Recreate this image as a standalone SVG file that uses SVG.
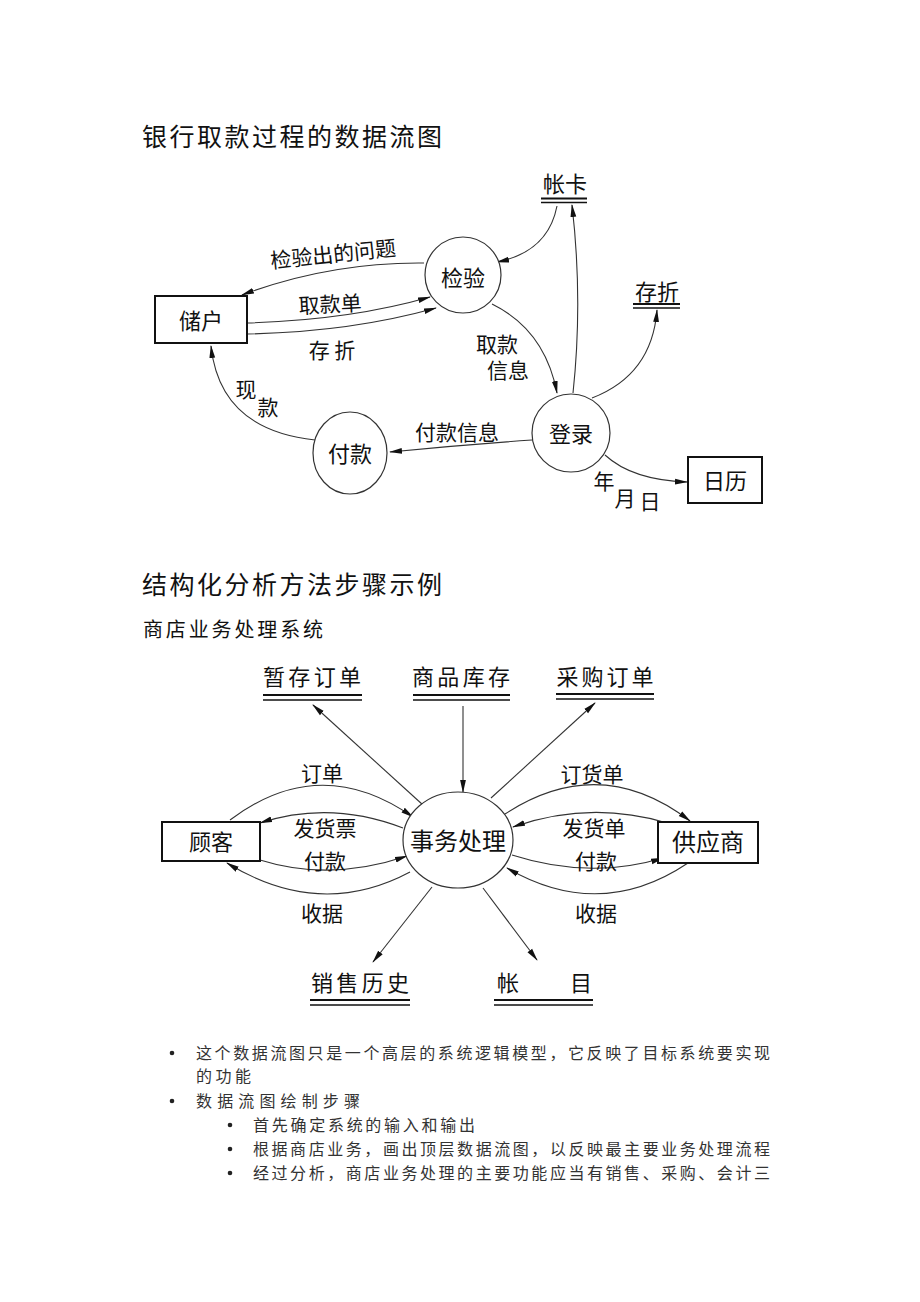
<svg xmlns="http://www.w3.org/2000/svg" width="920" height="1302" viewBox="0 0 920 1302">
<style>
text{font-family:"Noto Sans CJK SC","Noto Sans",sans-serif;fill:#111}
.t{font-size:25px}
.st{font-size:20px}
.n{font-size:22px;text-anchor:middle}
.n2{font-size:24px;text-anchor:middle}
.l{font-size:21px;text-anchor:middle}
.b{font-size:16px;fill:#333}
.c{fill:#fff;stroke:#333;stroke-width:1.2}
.r{fill:#fff;stroke:#111;stroke-width:2}
.s1{stroke:#111;stroke-width:2}
.s2{stroke:#111;stroke-width:1.4}
#conn path{fill:none;stroke:#333;stroke-width:1.1;marker-end:url(#a)}
</style>
<defs>
<marker id="a" markerWidth="13" markerHeight="7" refX="12" refY="3.5" orient="auto" markerUnits="userSpaceOnUse">
<path d="M0,0.6 L13,3.5 L0,6.4 z" fill="#111"/>
</marker>
</defs>
<rect width="920" height="1302" fill="#fff"/>

<text class="t" x="142" y="146" textLength="300">银行取款过程的数据流图</text>
<text class="t" x="142" y="594" textLength="300">结构化分析方法步骤示例</text>
<text class="st" x="143" y="637" textLength="180">商店业务处理系统</text>

<g id="conn">
<path d="M557,206 Q548,252 497,262"/>
<path d="M573,393 Q583,300 572,205"/>
<path d="M592,398 Q652,375 657,310"/>
<path d="M492,304 Q545,330 557,393"/>
<path d="M532,440 Q460,445 390,452"/>
<path d="M605,455 Q632,480 687,482"/>
<path d="M315,440 Q220,430 211,346"/>
<path d="M424,263 Q330,262 242,295"/>
<path d="M247,323 Q350,320 430,297"/>
<path d="M247,334 Q350,332 436,308"/>

<path d="M423,805 L313,705"/>
<path d="M463,706 L463,792"/>
<path d="M491,798 L595,703"/>
<path d="M230,820 Q320,752 413,817"/>
<path d="M403,828 Q330,800 260,823"/>
<path d="M260,860 Q330,882 407,856"/>
<path d="M410,872 Q320,920 227,863"/>
<path d="M432,887 L373,962"/>
<path d="M483,888 L537,960"/>
<path d="M505,814 Q600,752 690,821"/>
<path d="M667,823 Q590,800 513,827"/>
<path d="M512,855 Q590,880 663,858"/>
<path d="M688,863 Q600,922 507,868"/>
</g>

<g id="labels1">
<text class="l" x="333" y="262" transform="rotate(-6 333 253)">检验出的问题</text>
<text class="l" x="330" y="312" transform="rotate(-3 330 303)">取款单</text>
<text class="l" x="332" y="358">存 折</text>
<text class="l" x="497" y="352">取款</text>
<text class="l" x="508" y="378">信息</text>
<text class="l" x="457" y="440">付款信息</text>
<text class="l" x="604" y="489">年</text>
<text class="l" x="625" y="506">月</text>
<text class="l" x="650" y="509">日</text>
<text class="l" x="246" y="397">现</text>
<text class="l" x="268" y="415">款</text>
</g>

<g id="zhangka">
<text class="n" x="565" y="192">帐卡</text>
<line class="s1" x1="541" y1="198.5" x2="587" y2="198.5"/>
<line class="s2" x1="541" y1="202.5" x2="587" y2="202.5"/>
</g>
<g id="cunzhe">
<text class="n" x="657" y="300">存折</text>
<line class="s1" x1="633" y1="304" x2="680" y2="304"/>
<line class="s2" x1="633" y1="308" x2="680" y2="308"/>
</g>
<g id="jianyan">
<circle class="c" cx="463" cy="275" r="38"/>
<text class="n" x="463" y="286">检验</text>
</g>
<g id="chuhu">
<rect class="r" x="155" y="296" width="92" height="47"/>
<text class="n" x="201" y="329">储户</text>
</g>
<g id="denglu">
<circle class="c" cx="571" cy="433" r="39"/>
<text class="n" x="571" y="442">登录</text>
</g>
<g id="fukuan">
<ellipse class="c" cx="350" cy="453" rx="37" ry="41"/>
<text class="n" x="350" y="462">付款</text>
</g>
<g id="rili">
<rect class="r" x="688" y="457" width="74" height="46"/>
<text class="n" x="725" y="489">日历</text>
</g>

<g id="labels2">
<text class="l" x="322" y="781">订单</text>
<text class="l" x="325" y="836">发货票</text>
<text class="l" x="325" y="869">付款</text>
<text class="l" x="322" y="921">收据</text>
<text class="l" x="592" y="782">订货单</text>
<text class="l" x="594" y="836">发货单</text>
<text class="l" x="596" y="869">付款</text>
<text class="l" x="596" y="921">收据</text>
</g>

<g id="zancun">
<text class="n" x="312" y="685" textLength="98">暂存订单</text>
<line class="s1" x1="263" y1="695" x2="362" y2="695"/>
<line class="s2" x1="263" y1="700" x2="362" y2="700"/>
</g>
<g id="kucun">
<text class="n" x="461" y="685" textLength="98">商品库存</text>
<line class="s1" x1="413" y1="695" x2="510" y2="695"/>
<line class="s2" x1="413" y1="700" x2="510" y2="700"/>
</g>
<g id="caigou">
<text class="n" x="605" y="685" textLength="97">采购订单</text>
<line class="s1" x1="556" y1="694" x2="654" y2="694"/>
<line class="s2" x1="556" y1="699" x2="654" y2="699"/>
</g>
<g id="shiwu">
<ellipse class="c" cx="458" cy="840" rx="55" ry="48"/>
<text class="n2" x="458" y="850">事务处理</text>
</g>
<g id="guke">
<rect class="r" x="162" y="822" width="98" height="39"/>
<text class="n" x="211" y="850">顾客</text>
</g>
<g id="gongying">
<rect class="r" x="658" y="822" width="100" height="41"/>
<text class="n2" x="708" y="851">供应商</text>
</g>
<g id="xiaoshou">
<text class="n" x="360" y="991" textLength="98">销售历史</text>
<line class="s1" x1="310" y1="1000" x2="410" y2="1000"/>
<line class="s2" x1="310" y1="1005" x2="410" y2="1005"/>
</g>
<g id="zhangmu">
<text class="n" x="508" y="991">帐</text>
<text class="n" x="581" y="991">目</text>
<line class="s1" x1="494" y1="1000" x2="593" y2="1000"/>
<line class="s2" x1="494" y1="1005" x2="593" y2="1005"/>
</g>

<g id="bullets">
<circle cx="172" cy="1053" r="2.3" fill="#222"/>
<text class="b" x="196" y="1059" textLength="574">这个数据流图只是一个高层的系统逻辑模型，它反映了目标系统要实现</text>
<text class="b" x="196" y="1082" textLength="55">的功能</text>
<circle cx="172" cy="1101" r="2.3" fill="#222"/>
<text class="b" x="196" y="1107" textLength="164">数据流图绘制步骤</text>
<circle cx="230" cy="1125" r="2.3" fill="#222"/>
<text class="b" x="253" y="1131" textLength="222">首先确定系统的输入和输出</text>
<circle cx="230" cy="1149" r="2.3" fill="#222"/>
<text class="b" x="253" y="1155" textLength="517">根据商店业务，画出顶层数据流图，以反映最主要业务处理流程</text>
<circle cx="230" cy="1173" r="2.3" fill="#222"/>
<text class="b" x="253" y="1179" textLength="517">经过分析，商店业务处理的主要功能应当有销售、采购、会计三</text>
</g>
</svg>
